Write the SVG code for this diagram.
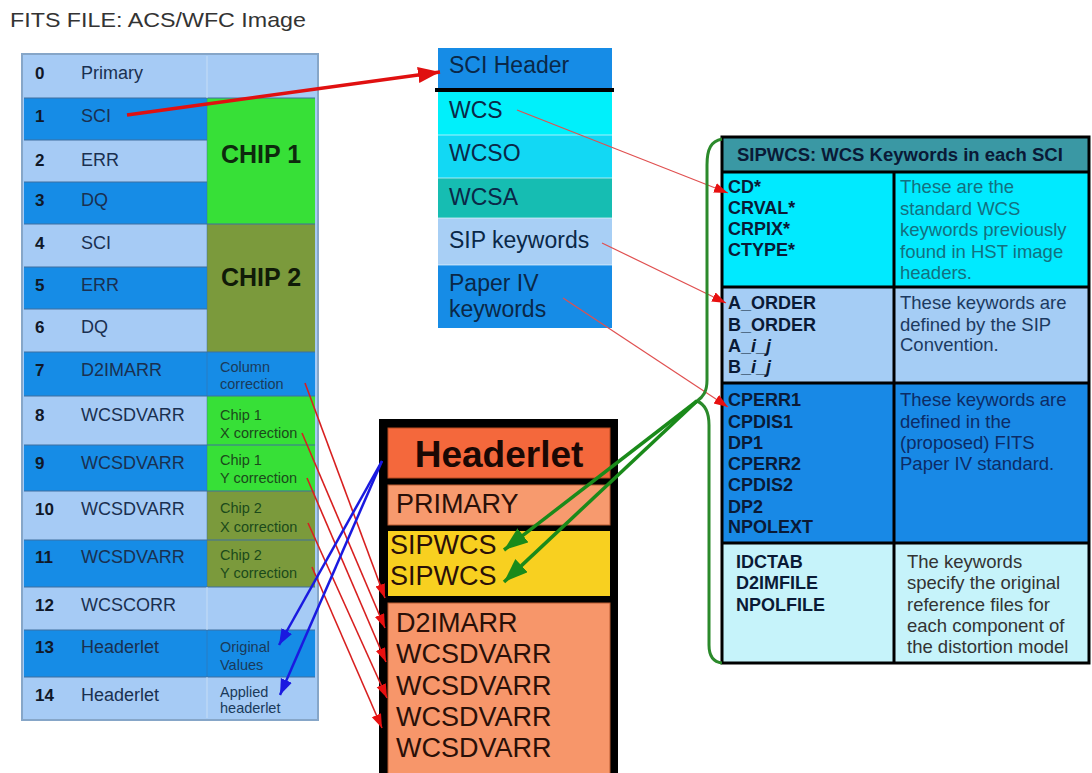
<svg xmlns="http://www.w3.org/2000/svg" width="1092" height="773" viewBox="0 0 1092 773">
<style>
text{font-family:"Liberation Sans",Arial,sans-serif}
.lt{fill:#a6cbf5}
.dk{fill:#168ce6}
.num{font-size:17px;font-weight:bold;fill:#101828}
.nm{font-size:18px;fill:#1a3050}
.sm{font-size:14.5px;fill:#1a3a5a}
.smg{font-size:14.5px;fill:#1b4a1b}
.sep{stroke:#3f6f9f;stroke-width:1}
.hb{font-size:23px;fill:#0a2848}
.rk{font-size:18px;font-weight:bold;fill:#0a1a36}
.rd{font-size:18.5px}
.hl{font-size:27px;fill:#2a1008}
</style>
<defs>
<marker id="mRedBig" markerUnits="userSpaceOnUse" markerWidth="24" markerHeight="18" refX="22" refY="8" orient="auto"><path d="M0,0 L22,8 L0,16 z" fill="#e01010"/></marker>
<marker id="mRed" markerUnits="userSpaceOnUse" markerWidth="16" markerHeight="12" refX="14" refY="5" orient="auto"><path d="M0,0 L14,5 L0,10 z" fill="#e81010"/></marker>
<marker id="mBlue" markerUnits="userSpaceOnUse" markerWidth="18" markerHeight="14" refX="16" refY="6" orient="auto"><path d="M0,0 L16,6 L0,12 z" fill="#1a1ae0"/></marker>
<marker id="mGreen" markerUnits="userSpaceOnUse" markerWidth="26" markerHeight="20" refX="24" refY="9" orient="auto"><path d="M0,0 L24,9 L0,18 z" fill="#1a8a1a"/></marker>
</defs>
<rect width="1092" height="773" fill="#ffffff"/>
<text x="10" y="27" font-size="21" fill="#333" textLength="296" lengthAdjust="spacingAndGlyphs">FITS FILE: ACS/WFC Image</text>

<g id="fits-table">
<rect x="22" y="54" width="296" height="666" fill="#a6cbf5" stroke="#86a6c8" stroke-width="2"/>
<g id="ext0"><rect class="lt" x="24" y="56" width="291" height="42"/><text class="num" x="35" y="79">0</text><text class="nm" x="81" y="79">Primary</text></g>
<g id="ext1"><rect class="dk" x="24" y="98" width="183" height="42"/><text class="num" x="35" y="122">1</text><text class="nm" x="81" y="122">SCI</text></g>
<g id="ext2"><rect class="lt" x="24" y="140" width="183" height="42"/><text class="num" x="35" y="166">2</text><text class="nm" x="81" y="166">ERR</text></g>
<g id="ext3"><rect class="dk" x="24" y="182" width="183" height="42"/><text class="num" x="35" y="206">3</text><text class="nm" x="81" y="206">DQ</text></g>
<g id="chip1"><rect x="207" y="98" width="108" height="126" fill="#37e037"/><text x="261" y="163" text-anchor="middle" font-size="25" font-weight="bold" fill="#0d2a0d">CHIP 1</text></g>
<g id="ext4"><rect class="lt" x="24" y="224" width="183" height="43"/><text class="num" x="35" y="249">4</text><text class="nm" x="81" y="249">SCI</text></g>
<g id="ext5"><rect class="dk" x="24" y="267" width="183" height="42"/><text class="num" x="35" y="291">5</text><text class="nm" x="81" y="291">ERR</text></g>
<g id="ext6"><rect class="lt" x="24" y="309" width="183" height="43"/><text class="num" x="35" y="333">6</text><text class="nm" x="81" y="333">DQ</text></g>
<g id="chip2"><rect x="207" y="224" width="108" height="128" fill="#7b9a3c"/><text x="261" y="286" text-anchor="middle" font-size="25" font-weight="bold" fill="#101a08">CHIP 2</text></g>
<g id="ext7"><rect class="dk" x="24" y="352" width="291" height="44"/><text class="num" x="35" y="376">7</text><text class="nm" x="81" y="376">D2IMARR</text><text class="sm" x="220" y="372">Column</text><text class="sm" x="220" y="389">correction</text></g>
<g id="ext8"><rect class="lt" x="24" y="396" width="183" height="49"/><rect x="207" y="396" width="108" height="49" fill="#37e037"/><text class="num" x="35" y="421">8</text><text class="nm" x="81" y="421">WCSDVARR</text><text class="smg" x="220" y="420">Chip 1</text><text class="smg" x="220" y="438">X correction</text></g>
<g id="ext9"><rect class="dk" x="24" y="445" width="183" height="46"/><rect x="207" y="445" width="108" height="46" fill="#37e037"/><text class="num" x="35" y="469">9</text><text class="nm" x="81" y="469">WCSDVARR</text><text class="smg" x="220" y="465">Chip 1</text><text class="smg" x="220" y="483">Y correction</text></g>
<g id="ext10"><rect class="lt" x="24" y="491" width="183" height="49"/><rect x="207" y="491" width="108" height="49" fill="#7b9a3c"/><text class="num" x="35" y="515">10</text><text class="nm" x="81" y="515">WCSDVARR</text><text class="smg" x="220" y="513">Chip 2</text><text class="smg" x="220" y="532">X correction</text></g>
<g id="ext11"><rect class="dk" x="24" y="540" width="183" height="47"/><rect x="207" y="540" width="108" height="47" fill="#7b9a3c"/><text class="num" x="35" y="563">11</text><text class="nm" x="81" y="563">WCSDVARR</text><text class="smg" x="220" y="560">Chip 2</text><text class="smg" x="220" y="578">Y correction</text></g>
<g id="ext12"><rect class="lt" x="24" y="587" width="291" height="43"/><text class="num" x="35" y="611">12</text><text class="nm" x="81" y="611">WCSCORR</text></g>
<g id="ext13"><rect class="dk" x="24" y="630" width="291" height="47"/><text class="num" x="35" y="653">13</text><text class="nm" x="81" y="653">Headerlet</text><text class="sm" x="220" y="652">Original</text><text class="sm" x="220" y="670">Values</text></g>
<g id="ext14"><rect class="lt" x="24" y="677" width="291" height="41"/><text class="num" x="35" y="701">14</text><text class="nm" x="81" y="701">Headerlet</text><text class="sm" x="220" y="697" font-size="13">Applied</text><text class="sm" x="220" y="713" font-size="13">headerlet</text></g>
<g id="table-lines">
<path class="sep" d="M24,98H315M24,140H207M24,182H207M24,224H315M24,267H207M24,309H207M24,352H315M24,396H315M24,445H315M24,491H315M24,540H315M24,587H315M24,630H315M24,677H315"/>
<path d="M207,56V98M207,587V630M207,677V718" stroke="#c6ddf5" stroke-width="1"/>
<path d="M207,98V587M207,630V677" stroke="#3f6f9f" stroke-width="0.8" opacity="0.6"/>
</g>
</g>

<g id="sci-header">
<rect x="438" y="48" width="174" height="41" fill="#168ce6"/>
<text class="hb" x="449" y="73">SCI Header</text>
<rect x="435" y="88" width="179" height="4" fill="#000"/>
<g id="wcs"><rect x="438" y="92" width="174" height="43" fill="#00f0fb"/><text class="hb" x="449" y="118">WCS</text></g>
<g id="wcso"><rect x="438" y="135" width="174" height="43" fill="#12d8f4"/><text class="hb" x="449" y="161">WCSO</text></g>
<g id="wcsa"><rect x="438" y="178" width="174" height="40" fill="#16bdb2"/><text class="hb" x="449" y="205">WCSA</text></g>
<g id="sip"><rect x="438" y="218" width="174" height="47" fill="#a8cff5"/><text class="hb" x="449" y="248">SIP keywords</text></g>
<g id="paper4"><rect x="438" y="265" width="174" height="63" fill="#168ce6"/><text class="hb" x="449" y="291" font-size="22">Paper IV</text><text class="hb" x="449" y="317" font-size="22">keywords</text></g>
<path d="M438,135H612M438,178H612M438,218H612M438,265H612" stroke="#e8f8ff" stroke-width="1" opacity="0.7"/>
</g>

<g id="sipwcs-table">
<rect x="722" y="137" width="367" height="35" fill="#3a98a4"/>
<rect x="722" y="172" width="367" height="115" fill="#00eaff"/>
<rect x="722" y="287" width="367" height="96" fill="#a5cdf5"/>
<rect x="722" y="383" width="367" height="160" fill="#1889e6"/>
<rect x="722" y="543" width="367" height="120" fill="#c6f3fa"/>
<g fill="none" stroke="#000" stroke-width="3">
<rect x="722" y="137" width="367" height="526"/>
<path d="M722,172H1089M722,287H1089M722,383H1089M722,543H1089M894,172V663"/>
</g>
<text x="737" y="161" font-size="18.5" font-weight="bold" fill="#0a1a36">SIPWCS: WCS Keywords in each SCI</text>
<g id="row-wcs">
<text class="rk" x="728" y="193">CD*</text><text class="rk" x="728" y="214">CRVAL*</text><text class="rk" x="728" y="235">CRPIX*</text><text class="rk" x="728" y="256">CTYPE*</text>
<g class="rd" fill="#137080"><text x="900" y="193">These are the</text><text x="900" y="214.5">standard WCS</text><text x="900" y="236">keywords previously</text><text x="900" y="257.5">found in HST image</text><text x="900" y="279">headers.</text></g>
</g>
<g id="row-sip">
<text class="rk" x="728" y="309">A_ORDER</text><text class="rk" x="728" y="331">B_ORDER</text><text class="rk" x="728" y="352">A_<tspan font-style="italic">i</tspan>_<tspan font-style="italic">j</tspan></text><text class="rk" x="728" y="373">B_<tspan font-style="italic">i</tspan>_<tspan font-style="italic">j</tspan></text>
<g class="rd" fill="#1c3a60"><text x="900" y="309">These keywords are</text><text x="900" y="331">defined by the SIP</text><text x="900" y="351">Convention.</text></g>
</g>
<g id="row-paper4">
<text class="rk" x="728" y="406">CPERR1</text><text class="rk" x="728" y="428">CPDIS1</text><text class="rk" x="728" y="449">DP1</text><text class="rk" x="728" y="470">CPERR2</text><text class="rk" x="728" y="491">CPDIS2</text><text class="rk" x="728" y="513">DP2</text><text class="rk" x="728" y="533">NPOLEXT</text>
<g class="rd" fill="#0c2c66"><text x="900" y="406">These keywords are</text><text x="900" y="428">defined in the</text><text x="900" y="449">(proposed) FITS</text><text x="900" y="470">Paper IV standard.</text></g>
</g>
<g id="row-files">
<text class="rk" x="736" y="568">IDCTAB</text><text class="rk" x="736" y="589">D2IMFILE</text><text class="rk" x="736" y="611">NPOLFILE</text>
<g class="rd" fill="#333"><text x="907" y="568">The keywords</text><text x="907" y="589">specify the original</text><text x="907" y="611">reference files for</text><text x="907" y="632">each component of</text><text x="907" y="653">the distortion model</text></g>
</g>
</g>

<g id="headerlet">
<rect x="379" y="419" width="239" height="360" fill="#000"/>
<rect x="388" y="428" width="222" height="50" fill="#f4683c" stroke="#b84a20" stroke-width="1"/>
<text x="499" y="467" text-anchor="middle" font-size="37" font-weight="bold" fill="#1a0804">Headerlet</text>
<rect x="388" y="485" width="222" height="40" fill="#f79a6e" stroke="#b85a30" stroke-width="1"/>
<text class="hl" x="396" y="513">PRIMARY</text>
<rect x="388" y="531" width="222" height="65" fill="#f8d020"/>
<text class="hl" x="390" y="554">SIPWCS</text>
<text class="hl" x="390" y="585">SIPWCS</text>
<rect x="388" y="603" width="222" height="175" fill="#f7966a" stroke="#b85a30" stroke-width="1"/>
<text class="hl" x="396" y="632">D2IMARR</text>
<text class="hl" x="396" y="663">WCSDVARR</text>
<text class="hl" x="396" y="695">WCSDVARR</text>
<text class="hl" x="396" y="726">WCSDVARR</text>
<text class="hl" x="396" y="757">WCSDVARR</text>
</g>

<g id="connectors" fill="none">
<path d="M127,115 L440,72" stroke="#e01010" stroke-width="3.5" marker-end="url(#mRedBig)"/>
<g stroke="#e05050" stroke-width="1.2" marker-end="url(#mRed)">
<path d="M517,110 L728,193"/>
<path d="M602,243 L726,303"/>
<path d="M563,298 L728,407"/>
</g>
<g stroke="#d82020" stroke-width="1.6" marker-end="url(#mRed)">
<path d="M305,383 L385,598"/>
<path d="M302,433 L385,628"/>
<path d="M307,478 L386,662"/>
<path d="M308,523 L387,698"/>
<path d="M312,567 L382,728"/>
</g>
<g stroke="#1a1ae0" stroke-width="2.5" marker-end="url(#mBlue)">
<path d="M382,461 L279,645"/>
<path d="M382,461 L280,695"/>
</g>
<path d="M722,139 C711,141 707,149 707,165 L707,380 C707,392 703,397 697,401 C704,404 709,410 709,425 L709,645 C709,656 713,662 722,663" stroke="#2b8a2b" stroke-width="3"/>
<g stroke="#1a8a1a" stroke-width="3.5" marker-end="url(#mGreen)">
<path d="M697,401 L504,550"/>
<path d="M697,401 L504,582"/>
</g>
</g>
</svg>
